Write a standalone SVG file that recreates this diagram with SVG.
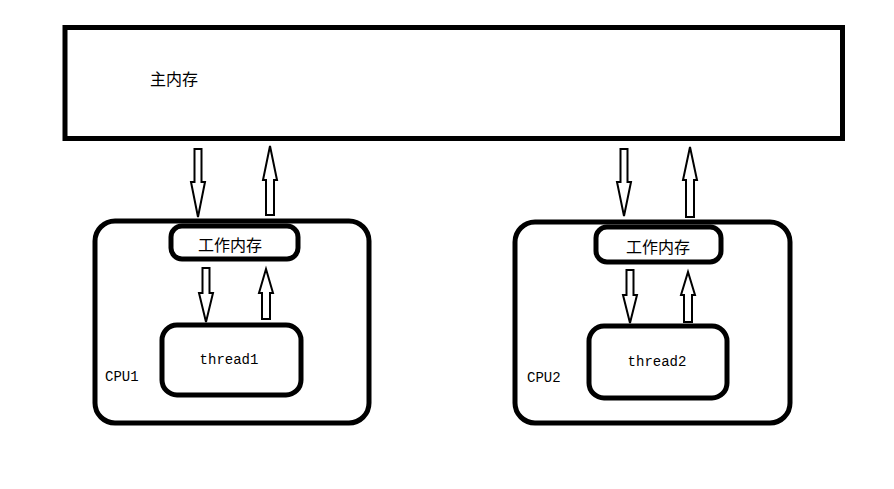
<svg xmlns="http://www.w3.org/2000/svg" width="894" height="489" viewBox="0 0 894 489">
<style>
.box{fill:#fff;stroke:#000;stroke-width:5}
.arr{fill:#fff;stroke:#000;stroke-width:2;stroke-linejoin:miter}
.cjk{font-family:"Noto Sans CJK SC","Noto Sans CJK JP",sans-serif;font-size:16px;fill:#000}
.mono{font-family:"Liberation Mono","DejaVu Sans Mono",monospace;font-size:14px;fill:#000}
</style>
<rect width="894" height="489" fill="#fff"/>
<g id="main-memory">
<rect class="box" x="65" y="27.5" width="777.5" height="111"/>
<text class="cjk" x="150" y="78" dominant-baseline="central">主内存</text>
</g>
<g id="cpu1">
<rect class="box" x="95" y="221" width="274" height="202" rx="20"/>
<text class="mono" x="105" y="381">CPU1</text>
</g>
<g id="cpu2">
<rect class="box" x="515" y="222" width="275" height="201" rx="20"/>
<text class="mono" x="527" y="382">CPU2</text>
</g>
<g id="work-memory1">
<rect class="box" x="171" y="226" width="127" height="33" rx="11"/>
<text class="cjk" x="230" y="244" text-anchor="middle" dominant-baseline="central">工作内存</text>
</g>
<g id="work-memory2">
<rect class="box" x="596" y="227" width="125" height="35" rx="11"/>
<text class="cjk" x="658" y="246" text-anchor="middle" dominant-baseline="central">工作内存</text>
</g>
<g id="thread1">
<rect class="box" x="162" y="325" width="139" height="70" rx="15"/>
<text class="mono" x="229" y="364" text-anchor="middle">thread1</text>
</g>
<g id="thread2">
<rect class="box" x="589" y="326" width="138" height="72" rx="15"/>
<text class="mono" x="657" y="366" text-anchor="middle">thread2</text>
</g>
<g id="connectors">
<polygon class="arr" points="194.5,149 201.5,149 201.5,182 205,182 198,217 191,182 194.5,182"/>
<polygon class="arr" points="266,215 274,215 274,180 277,180 270,146 263,180 266,180"/>
<polygon class="arr" points="202.5,268 209.5,268 209.5,293 213,293 206,322 199,293 202.5,293"/>
<polygon class="arr" points="262,319 270,319 270,293 273,293 266,269 259,293 262,293"/>
<polygon class="arr" points="620.5,149 627.5,149 627.5,182 631,182 624,216 617,182 620.5,182"/>
<polygon class="arr" points="686,217 694,217 694,180 697,180 690,147 683,180 686,180"/>
<polygon class="arr" points="626.5,270 633.5,270 633.5,295 637,295 630,323 623,295 626.5,295"/>
<polygon class="arr" points="684,322 692,322 692,295 695,295 688,272 681,295 684,295"/>
</g>
</svg>
